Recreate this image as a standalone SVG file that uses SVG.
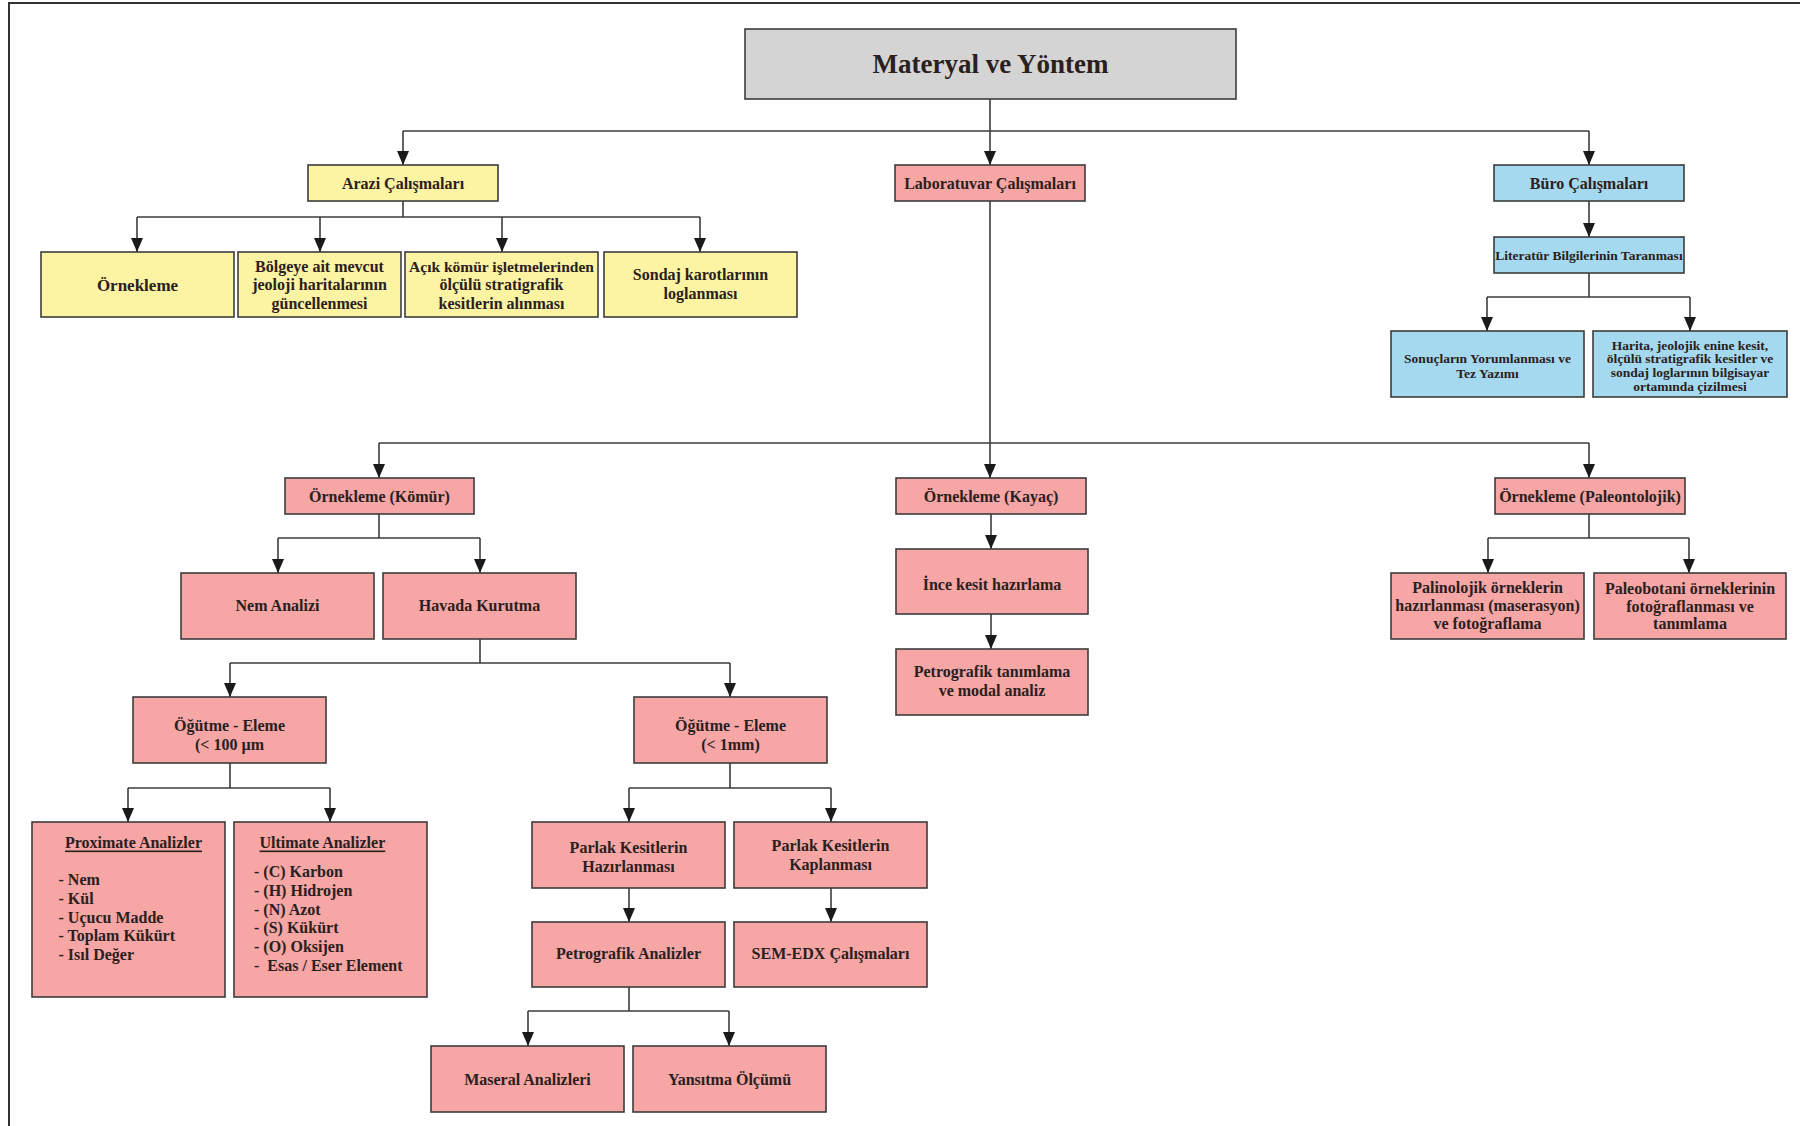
<svg xmlns="http://www.w3.org/2000/svg" width="1800" height="1126" viewBox="0 0 1800 1126">
<style>
.b{stroke:#3c3c3c;stroke-width:1.6}
.y{fill:#fdf4a3}
.p{fill:#f5a6a5}
.c{fill:#a5d9ef}
.g{fill:#d4d4d4}
text{font-family:"Liberation Serif","Times New Roman",serif;font-weight:bold;fill:#2a2020;dominant-baseline:central}
.t{font-size:16px;text-anchor:middle}
.s{font-size:13.5px;text-anchor:middle}
.l{font-size:16px}
.cn{fill:none;stroke:#3c3c3c;stroke-width:1.6}
.ar{marker-end:url(#ah)}
</style>
<defs>
<marker id="ah" markerUnits="userSpaceOnUse" markerWidth="14" markerHeight="12" viewBox="0 0 14 12" refX="14" refY="6" orient="auto">
<path d="M0,0 L14,6 L0,12 Z" fill="#1a1a1a"/>
</marker>
</defs>
<rect width="1800" height="1126" fill="#fff"/>
<path d="M9,1126 V3 H1800" fill="none" stroke="#333" stroke-width="2"/>

<g id="connectors">
<path class="cn" d="M990,99 V131 M403,131 H1589"/>
<path class="cn ar" d="M403,131 V165"/>
<path class="cn ar" d="M990,131 V165"/>
<path class="cn ar" d="M1589,131 V165"/>
<path class="cn" d="M403,201 V217 M137,217 H700"/>
<path class="cn ar" d="M137,217 V252"/>
<path class="cn ar" d="M320,217 V252"/>
<path class="cn ar" d="M502,217 V252"/>
<path class="cn ar" d="M700,217 V252"/>
<path class="cn ar" d="M1589,201 V237"/>
<path class="cn" d="M1589,273 V297 M1487,297 H1690"/>
<path class="cn ar" d="M1487,297 V331"/>
<path class="cn ar" d="M1690,297 V331"/>
<path class="cn" d="M990,201 V443 M379,443 H1589"/>
<path class="cn ar" d="M379,443 V478"/>
<path class="cn ar" d="M990,443 V478"/>
<path class="cn ar" d="M1589,443 V478"/>
<path class="cn" d="M379,514 V538 M278,538 H480"/>
<path class="cn ar" d="M278,538 V573"/>
<path class="cn ar" d="M480,538 V573"/>
<path class="cn" d="M480,639 V663 M230,663 H730"/>
<path class="cn ar" d="M230,663 V697"/>
<path class="cn ar" d="M730,663 V697"/>
<path class="cn" d="M230,763 V788 M128,788 H330"/>
<path class="cn ar" d="M128,788 V822"/>
<path class="cn ar" d="M330,788 V822"/>
<path class="cn" d="M730,763 V788 M629,788 H831"/>
<path class="cn ar" d="M629,788 V822"/>
<path class="cn ar" d="M831,788 V822"/>
<path class="cn ar" d="M629,888 V922"/>
<path class="cn ar" d="M831,888 V922"/>
<path class="cn" d="M629,987 V1011 M528,1011 H729"/>
<path class="cn ar" d="M528,1011 V1046"/>
<path class="cn ar" d="M729,1011 V1046"/>
<path class="cn ar" d="M991,514 V549"/>
<path class="cn ar" d="M991,614 V649"/>
<path class="cn" d="M1589,514 V538 M1488,538 H1689"/>
<path class="cn ar" d="M1488,538 V573"/>
<path class="cn ar" d="M1689,538 V573"/>
</g>

<g id="title"><rect class="b g" x="745" y="29" width="491" height="70"/><text x="990.5" y="64" style="font-size:27px;text-anchor:middle">Materyal ve Yöntem</text></g>

<g id="arazi"><rect class="b y" x="308" y="165" width="190" height="36"/><text class="t" x="403" y="183">Arazi Çalışmaları</text></g>
<g id="lab"><rect class="b p" x="895" y="165" width="190" height="36"/><text class="t" x="990" y="183">Laboratuvar Çalışmaları</text></g>
<g id="buro"><rect class="b c" x="1494" y="165" width="190" height="36"/><text class="t" x="1589" y="183">Büro Çalışmaları</text></g>

<g id="ornekleme"><rect class="b y" x="41" y="252" width="193" height="65"/><text class="t" x="137.5" y="285" style="font-size:17px">Örnekleme</text></g>
<g id="bolgeye"><rect class="b y" x="238" y="252" width="163" height="65"/><text class="t" x="319.5" y="266">Bölgeye ait mevcut</text><text class="t" x="319.5" y="284.5">jeoloji haritalarının</text><text class="t" x="319.5" y="303">güncellenmesi</text></g>
<g id="acik"><rect class="b y" x="405" y="252" width="193" height="65"/><text class="t" x="501.5" y="266" style="font-size:15.5px">Açık kömür işletmelerinden</text><text class="t" x="501.5" y="284.5">ölçülü stratigrafik</text><text class="t" x="501.5" y="303">kesitlerin alınması</text></g>
<g id="sondaj"><rect class="b y" x="604" y="252" width="193" height="65"/><text class="t" x="700.5" y="274">Sondaj karotlarının</text><text class="t" x="700.5" y="293">loglanması</text></g>

<g id="literatur"><rect class="b c" x="1494" y="237" width="190" height="36"/><text class="s" x="1589" y="255">Literatür Bilgilerinin Taranması</text></g>
<g id="sonuclar"><rect class="b c" x="1391" y="331" width="193" height="66"/><text class="s" x="1487.5" y="358">Sonuçların Yorumlanması ve</text><text class="s" x="1487.5" y="373">Tez Yazımı</text></g>
<g id="harita"><rect class="b c" x="1593" y="331" width="194" height="66"/><text class="s" x="1690" y="345">Harita, jeolojik enine kesit,</text><text class="s" x="1690" y="358.5">ölçülü stratigrafik kesitler ve</text><text class="s" x="1690" y="372.5">sondaj loglarının bilgisayar</text><text class="s" x="1690" y="386.5">ortamında çizilmesi</text></g>

<g id="komur"><rect class="b p" x="285" y="478" width="189" height="36"/><text class="t" x="379.5" y="496.5">Örnekleme (Kömür)</text></g>
<g id="kayac"><rect class="b p" x="896" y="478" width="190" height="36"/><text class="t" x="991" y="496.5">Örnekleme (Kayaç)</text></g>
<g id="paleo"><rect class="b p" x="1495" y="478" width="190" height="36"/><text class="t" x="1590" y="496.5">Örnekleme (Paleontolojik)</text></g>

<g id="nem"><rect class="b p" x="181" y="573" width="193" height="66"/><text class="t" x="277.5" y="605.5">Nem Analizi</text></g>
<g id="havada"><rect class="b p" x="383" y="573" width="193" height="66"/><text class="t" x="479.5" y="605.5">Havada Kurutma</text></g>

<g id="ince"><rect class="b p" x="896" y="549" width="192" height="65"/><text class="t" x="992" y="584.5">İnce kesit hazırlama</text></g>
<g id="petrotan"><rect class="b p" x="896" y="649" width="192" height="66"/><text class="t" x="992" y="671.5">Petrografik tanımlama</text><text class="t" x="992" y="690.5">ve modal analiz</text></g>

<g id="palino"><rect class="b p" x="1391" y="573" width="193" height="66"/><text class="t" x="1487.5" y="587">Palinolojik örneklerin</text><text class="t" x="1487.5" y="605">hazırlanması (maserasyon)</text><text class="t" x="1487.5" y="623">ve fotoğraflama</text></g>
<g id="paleobot"><rect class="b p" x="1594" y="573" width="192" height="66"/><text class="t" x="1690" y="588">Paleobotani örneklerinin</text><text class="t" x="1690" y="606">fotoğraflanması ve</text><text class="t" x="1690" y="623.5">tanımlama</text></g>

<g id="ogutme1"><rect class="b p" x="133" y="697" width="193" height="66"/><text class="t" x="229.5" y="725">Öğütme - Eleme</text><text class="t" x="229.5" y="744">(&lt; 100 µm</text></g>
<g id="ogutme2"><rect class="b p" x="634" y="697" width="193" height="66"/><text class="t" x="730.5" y="725">Öğütme - Eleme</text><text class="t" x="730.5" y="744">(&lt; 1mm)</text></g>

<g id="proximate"><rect class="b p" x="32" y="822" width="193" height="175"/>
<text class="l" x="65" y="842" text-decoration="underline">Proximate Analizler</text>
<text class="l" x="58.5" y="879">- Nem</text>
<text class="l" x="58.5" y="898">- Kül</text>
<text class="l" x="58.5" y="917">- Uçucu Madde</text>
<text class="l" x="58.5" y="935.5">- Toplam Kükürt</text>
<text class="l" x="58.5" y="954">- Isıl Değer</text>
</g>
<g id="ultimate"><rect class="b p" x="234" y="822" width="193" height="175"/>
<text class="l" x="259.5" y="842" text-decoration="underline">Ultimate Analizler</text>
<text class="l" x="254" y="871">- (C) Karbon</text>
<text class="l" x="254" y="890">- (H) Hidrojen</text>
<text class="l" x="254" y="909">- (N) Azot</text>
<text class="l" x="254" y="927.5">- (S) Kükürt</text>
<text class="l" x="254" y="946.5">- (O) Oksijen</text>
<text class="l" x="254" y="965" xml:space="preserve">-  Esas / Eser Element</text>
</g>

<g id="parlak1"><rect class="b p" x="532" y="822" width="193" height="66"/><text class="t" x="628.5" y="847">Parlak Kesitlerin</text><text class="t" x="628.5" y="866">Hazırlanması</text></g>
<g id="parlak2"><rect class="b p" x="734" y="822" width="193" height="66"/><text class="t" x="830.5" y="845.5">Parlak Kesitlerin</text><text class="t" x="830.5" y="864">Kaplanması</text></g>
<g id="petro"><rect class="b p" x="532" y="922" width="193" height="65"/><text class="t" x="628.5" y="953.5">Petrografik Analizler</text></g>
<g id="sem"><rect class="b p" x="734" y="922" width="193" height="65"/><text class="t" x="830.5" y="953.5">SEM-EDX Çalışmaları</text></g>
<g id="maseral"><rect class="b p" x="431" y="1046" width="193" height="66"/><text class="t" x="527.5" y="1079">Maseral Analizleri</text></g>
<g id="yansitma"><rect class="b p" x="633" y="1046" width="193" height="66"/><text class="t" x="729.5" y="1079">Yansıtma Ölçümü</text></g>
</svg>
